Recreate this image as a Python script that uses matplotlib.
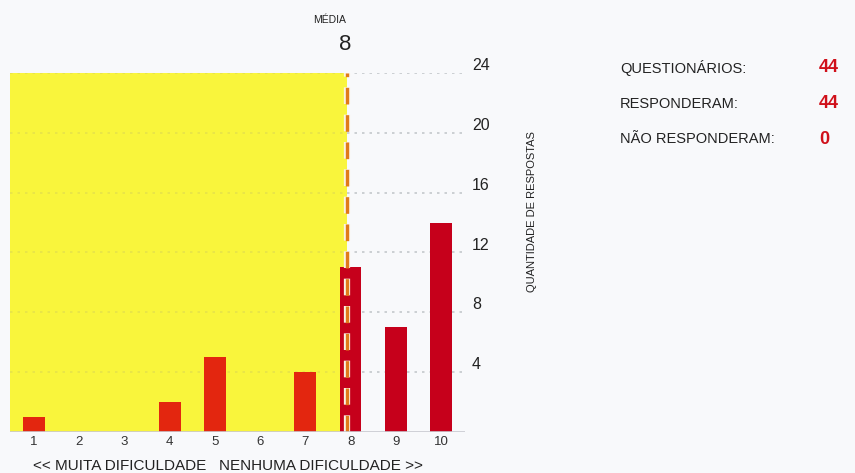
import matplotlib.pyplot as plt
import matplotlib.patheffects as pe

plt.rcParams['font.family'] = ['Liberation Sans', 'DejaVu Sans']

# dados do grafico
notas = [1, 2, 3, 4, 5, 6, 7, 8, 9, 10]
respostas = [1, 0, 0, 2, 5, 0, 4, 11, 7, 14]
media = 7.93
media_label = "8"
y_ticks = [4, 8, 12, 16, 20, 24]
resumo_labels = ["QUESTIONÁRIOS:", "RESPONDERAM:", "NÃO RESPONDERAM:"]
resumo_valores = ["44", "44", "0"]

fundo = "#f8f9fb"
fig = plt.figure(figsize=(8.55, 4.73), dpi=100, facecolor=fundo)
ax = fig.add_axes([10 / 855, 1 - 432 / 473, 455 / 855, 359 / 473])
ax.set_facecolor(fundo)

x_min, x_max = 0.47, 10.53
ax.set_xlim(x_min, x_max)
ax.set_ylim(0, 24)

# area amarela ate a media
ax.axvspan(x_min, media, ymin=0, ymax=1, color="#f9f53c", zorder=0, lw=0)

# linhas de grade pontilhadas (quase invisiveis no amarelo)
for t in y_ticks:
    ax.plot([x_min, media], [t, t], color="#e6e24a", lw=1.2,
            ls=(0, (1.5, 3)), zorder=1)
    ax.plot([media, x_max], [t, t], color="#c4c8cc", lw=1.2,
            ls=(0, (1.5, 3)), zorder=1)

cores = ["#e3260f" if n < 8 else "#c6001b" for n in notas]
ax.bar(notas, respostas, width=0.48, color=cores, zorder=2)

# linha da media
ax.plot([media, media], [0, 24], color="#e07a1a", lw=2.4, ls=(0, (5, 3.2)),
        zorder=3, solid_capstyle="butt",
        path_effects=[pe.Stroke(linewidth=4.5, foreground="#fbf3e6"), pe.Normal()])

ax.axhline(0, color="#c9c9d0", lw=1.2, zorder=4)

for s in ax.spines.values():
    s.set_visible(False)

ax.set_xticks(notas)
ax.set_xticklabels([str(n) for n in notas], fontsize=9.5, color="#333333")
ax.tick_params(axis="x", length=0, pad=3)

ax.yaxis.tick_right()
ax.set_yticks(y_ticks)
ax.set_yticklabels([str(t) for t in y_ticks], fontsize=11.5, color="#222222",
                   va="bottom")
ax.tick_params(axis="y", length=0, pad=5)

fig.text(228 / 855, 1 - 466 / 473,
         "<< MUITA DIFICULDADE   NENHUMA DIFICULDADE >>",
         ha="center", va="center", fontsize=11, color="#222222")

fig.text(532 / 855, 1 - 212 / 473, "QUANTIDADE DE RESPOSTAS", rotation=90,
         ha="center", va="center", fontsize=8, color="#222222")

fig.text(346 / 855, 1 - 20 / 473, "MÉDIA", ha="right", va="center",
         fontsize=7.5, color="#222222")
fig.text(351 / 855, 1 - 44 / 473, media_label, ha="right", va="center",
         fontsize=16, color="#222222")

for i, (lab, val) in enumerate(zip(resumo_labels, resumo_valores)):
    y = 1 - (68 + i * 35.5) / 473
    fig.text(620 / 855, y, lab, ha="left", va="center", fontsize=10.5,
             color="#222222")
    fig.text(819 / 855, y, val, ha="left", va="center", fontsize=13,
             color="#d0101a", fontweight="bold")

fig.savefig("out.png", dpi=100, facecolor=fundo)
